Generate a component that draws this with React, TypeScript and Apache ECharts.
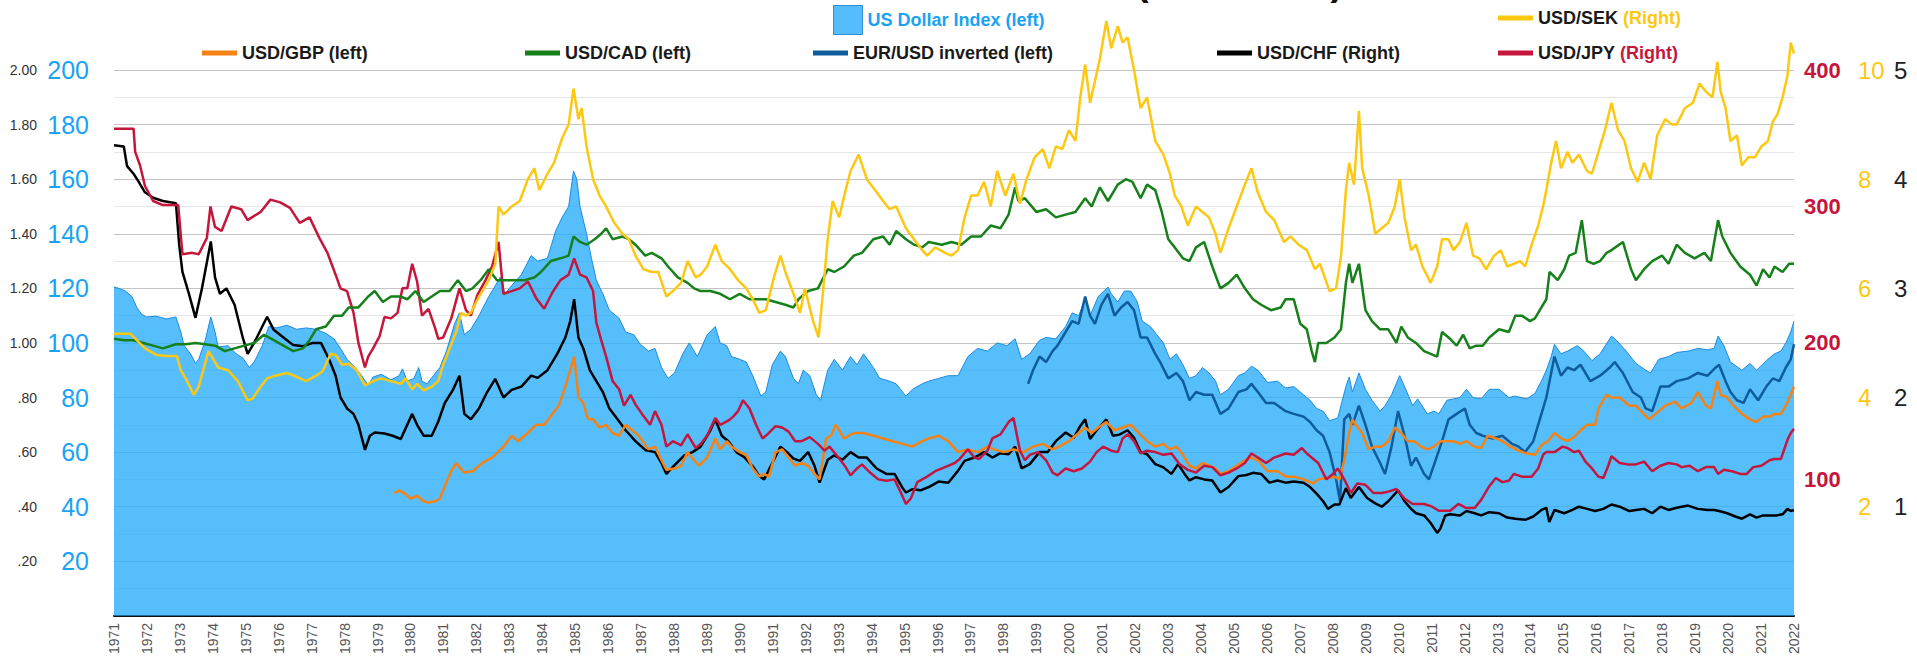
import React, { useEffect, useRef } from "react";
import * as echarts from "echarts";

// ---------- DATA (decimal year, value) ----------
const dxy: number[][] = [[1971.0,120.5],[1971.15,120],[1971.35,119],[1971.55,117],[1971.7,113],[1971.85,110.5],[1972.0,109.5],[1972.3,109.8],[1972.6,108.8],[1972.9,109.5],[1973.05,104],[1973.15,99],[1973.35,96],[1973.5,92.5],[1973.6,94],[1973.8,101],[1973.97,109.5],[1974.1,104],[1974.2,98.5],[1974.5,99],[1974.75,96],[1974.95,94.5],[1975.15,91],[1975.3,93],[1975.55,99],[1975.75,106],[1976.0,105.5],[1976.3,106.5],[1976.6,105],[1976.9,105.5],[1977.2,105],[1977.5,103.5],[1977.75,101.5],[1977.95,98],[1978.15,94],[1978.4,91],[1978.6,88],[1978.8,84.5],[1978.95,87.5],[1979.2,88.5],[1979.5,86.5],[1979.75,88],[1979.85,90.5],[1980.0,86],[1980.2,87],[1980.35,91],[1980.45,86],[1980.6,85],[1980.8,88],[1981.0,91],[1981.2,97],[1981.45,107],[1981.6,111],[1981.75,103],[1981.95,105],[1982.2,110],[1982.5,117],[1982.85,124],[1983.0,118],[1983.2,121],[1983.5,125],[1983.8,132],[1984.0,130],[1984.3,131],[1984.55,141],[1984.75,146],[1984.95,150],[1985.1,163],[1985.2,160],[1985.3,150],[1985.5,140],[1985.65,131],[1985.8,123],[1986.0,118],[1986.2,112],[1986.5,109],[1986.7,104],[1986.95,103],[1987.15,99.5],[1987.4,97],[1987.6,98],[1987.8,91],[1988.0,87],[1988.2,89],[1988.45,96],[1988.65,100],[1988.9,95],[1989.2,103],[1989.45,106],[1989.6,100],[1989.8,99],[1989.95,95],[1990.2,94],[1990.4,93],[1990.6,88],[1990.85,80.5],[1991.0,82],[1991.2,92],[1991.45,97],[1991.6,95],[1991.85,87],[1992.0,85],[1992.15,90],[1992.35,88],[1992.55,81],[1992.68,79],[1992.9,90],[1993.1,94],[1993.35,90],[1993.6,95],[1993.8,92],[1994.0,96],[1994.3,91],[1994.5,87],[1994.8,86],[1995.0,85],[1995.3,80.5],[1995.5,83],[1995.8,85],[1996.0,86],[1996.3,87],[1996.6,88],[1996.9,88],[1997.2,95],[1997.5,98],[1997.8,97],[1998.1,100],[1998.4,99],[1998.65,101.5],[1998.85,94],[1999.1,96],[1999.4,101],[1999.6,102],[1999.9,101.5],[2000.2,106],[2000.4,111],[2000.6,110],[2000.8,116],[2000.95,110],[2001.2,117],[2001.5,120.5],[2001.6,118],[2001.8,115],[2002.0,119],[2002.2,119],[2002.4,115],[2002.55,108],[2002.8,106],[2003.0,103],[2003.2,100],[2003.4,94],[2003.6,96],[2003.8,92],[2004.0,87],[2004.2,88],[2004.4,91],[2004.6,89],[2004.8,86],[2004.95,81],[2005.2,83],[2005.5,88],[2005.7,89],[2005.9,91.5],[2006.1,90],[2006.4,85.5],[2006.7,86],[2006.95,83.5],[2007.2,84],[2007.5,81],[2007.7,79],[2007.9,76],[2008.1,75],[2008.3,71.5],[2008.55,72.5],[2008.8,84],[2008.9,87.5],[2009.0,82],[2009.2,89],[2009.4,83],[2009.6,79],[2009.85,75],[2010.0,77],[2010.2,81],[2010.45,88],[2010.6,84],[2010.85,77],[2011.0,79.5],[2011.3,74],[2011.5,75],[2011.65,74],[2011.9,79],[2012.1,79.5],[2012.3,80],[2012.5,83],[2012.7,80],[2012.95,79.5],[2013.2,83],[2013.5,83],[2013.8,80],[2014.0,80.5],[2014.35,79.5],[2014.6,81.5],[2014.8,86],[2014.95,90],[2015.1,95],[2015.2,99.5],[2015.4,96],[2015.6,97],[2015.9,99],[2016.1,97],[2016.35,93.5],[2016.6,96],[2016.95,102.5],[2017.1,101],[2017.4,97],[2017.7,92.5],[2018.0,90],[2018.15,89],[2018.4,94],[2018.7,95],[2018.95,96.5],[2019.3,97],[2019.6,98],[2019.9,97.5],[2020.1,98],[2020.22,102.5],[2020.4,99],[2020.6,93],[2020.95,90],[2021.2,92.5],[2021.4,90],[2021.7,93.5],[2021.95,96],[2022.15,97],[2022.3,100],[2022.45,104],[2022.55,108]];

const usdGbp: number[][] = [[1979.6,0.45],[1979.75,0.46],[1979.9,0.45],[1980.1,0.43],[1980.3,0.44],[1980.5,0.42],[1980.65,0.415],[1980.85,0.42],[1981.0,0.43],[1981.2,0.49],[1981.35,0.53],[1981.5,0.56],[1981.6,0.545],[1981.75,0.525],[1982.0,0.53],[1982.3,0.56],[1982.6,0.58],[1982.95,0.62],[1983.2,0.66],[1983.4,0.64],[1983.7,0.67],[1983.95,0.7],[1984.2,0.7],[1984.45,0.74],[1984.65,0.77],[1984.85,0.84],[1985.0,0.9],[1985.12,0.95],[1985.25,0.8],[1985.4,0.78],[1985.55,0.72],[1985.7,0.72],[1985.9,0.69],[1986.1,0.7],[1986.3,0.67],[1986.5,0.66],[1986.7,0.7],[1986.9,0.68],[1987.1,0.66],[1987.4,0.61],[1987.6,0.62],[1987.8,0.57],[1987.95,0.535],[1988.2,0.54],[1988.4,0.55],[1988.6,0.6],[1988.8,0.57],[1988.95,0.55],[1989.2,0.58],[1989.45,0.65],[1989.6,0.61],[1989.8,0.64],[1989.95,0.62],[1990.2,0.6],[1990.4,0.59],[1990.6,0.54],[1990.8,0.51],[1990.95,0.52],[1991.1,0.51],[1991.3,0.6],[1991.5,0.61],[1991.7,0.58],[1991.9,0.55],[1992.1,0.56],[1992.3,0.55],[1992.5,0.52],[1992.65,0.5],[1992.75,0.57],[1992.85,0.65],[1993.0,0.66],[1993.15,0.7],[1993.4,0.65],[1993.7,0.67],[1994.0,0.67],[1994.3,0.66],[1994.6,0.65],[1994.9,0.64],[1995.2,0.63],[1995.5,0.62],[1995.8,0.64],[1996.0,0.65],[1996.3,0.66],[1996.6,0.64],[1996.9,0.6],[1997.2,0.61],[1997.5,0.6],[1997.8,0.62],[1998.0,0.61],[1998.3,0.6],[1998.6,0.61],[1998.9,0.6],[1999.2,0.62],[1999.5,0.63],[1999.8,0.61],[2000.0,0.62],[2000.3,0.64],[2000.6,0.67],[2000.8,0.69],[2001.0,0.67],[2001.2,0.69],[2001.45,0.71],[2001.7,0.68],[2001.95,0.69],[2002.2,0.7],[2002.45,0.67],[2002.7,0.64],[2002.95,0.62],[2003.2,0.63],[2003.4,0.61],[2003.6,0.62],[2003.8,0.59],[2004.0,0.55],[2004.2,0.54],[2004.4,0.56],[2004.6,0.55],[2004.8,0.54],[2004.95,0.52],[2005.2,0.53],[2005.45,0.55],[2005.7,0.57],[2005.9,0.58],[2006.1,0.57],[2006.4,0.53],[2006.7,0.53],[2006.95,0.51],[2007.2,0.51],[2007.5,0.5],[2007.8,0.485],[2007.95,0.5],[2008.2,0.505],[2008.45,0.51],[2008.6,0.5],[2008.75,0.57],[2008.9,0.67],[2009.0,0.72],[2009.1,0.7],[2009.3,0.67],[2009.5,0.61],[2009.7,0.62],[2009.9,0.62],[2010.1,0.64],[2010.3,0.69],[2010.5,0.67],[2010.7,0.64],[2010.9,0.64],[2011.1,0.62],[2011.3,0.61],[2011.5,0.62],[2011.7,0.64],[2011.9,0.64],[2012.1,0.64],[2012.3,0.63],[2012.5,0.64],[2012.75,0.62],[2012.95,0.615],[2013.15,0.66],[2013.4,0.65],[2013.6,0.64],[2013.85,0.62],[2014.1,0.605],[2014.35,0.595],[2014.6,0.59],[2014.8,0.625],[2015.0,0.64],[2015.2,0.67],[2015.4,0.65],[2015.6,0.64],[2015.8,0.655],[2016.0,0.68],[2016.2,0.7],[2016.45,0.7],[2016.55,0.76],[2016.8,0.81],[2016.95,0.8],[2017.2,0.8],[2017.5,0.77],[2017.7,0.77],[2017.9,0.745],[2018.1,0.72],[2018.3,0.74],[2018.6,0.77],[2018.9,0.785],[2019.1,0.76],[2019.4,0.78],[2019.6,0.82],[2019.85,0.77],[2020.0,0.76],[2020.2,0.86],[2020.3,0.81],[2020.5,0.8],[2020.7,0.77],[2020.95,0.74],[2021.2,0.72],[2021.4,0.71],[2021.6,0.73],[2021.8,0.73],[2021.95,0.74],[2022.15,0.74],[2022.3,0.77],[2022.45,0.81],[2022.55,0.84]];

const usdCad: number[][] = [[1971.0,1.015],[1971.3,1.01],[1971.6,1.01],[1971.9,1.0],[1972.2,0.99],[1972.5,0.98],[1972.9,0.995],[1973.2,0.995],[1973.5,1.0],[1973.8,0.995],[1974.1,0.99],[1974.4,0.97],[1974.7,0.98],[1975.0,0.99],[1975.3,1.0],[1975.6,1.03],[1975.9,1.01],[1976.2,0.99],[1976.5,0.97],[1976.8,0.98],[1977.0,1.01],[1977.2,1.05],[1977.5,1.06],[1977.75,1.1],[1978.0,1.1],[1978.2,1.13],[1978.5,1.13],[1978.8,1.17],[1979.0,1.19],[1979.25,1.15],[1979.5,1.17],[1979.8,1.17],[1980.0,1.16],[1980.25,1.19],[1980.5,1.15],[1980.75,1.17],[1981.0,1.19],[1981.3,1.19],[1981.55,1.23],[1981.8,1.19],[1982.0,1.2],[1982.25,1.23],[1982.5,1.27],[1982.75,1.23],[1983.0,1.23],[1983.3,1.23],[1983.6,1.23],[1983.9,1.24],[1984.1,1.26],[1984.4,1.3],[1984.7,1.31],[1984.95,1.32],[1985.1,1.39],[1985.3,1.37],[1985.5,1.36],[1985.75,1.38],[1985.95,1.4],[1986.1,1.42],[1986.3,1.38],[1986.6,1.39],[1986.8,1.38],[1987.0,1.36],[1987.3,1.32],[1987.5,1.33],[1987.8,1.31],[1988.0,1.28],[1988.3,1.24],[1988.6,1.22],[1988.8,1.2],[1989.0,1.19],[1989.3,1.19],[1989.6,1.18],[1989.9,1.16],[1990.2,1.18],[1990.5,1.16],[1990.8,1.16],[1991.0,1.16],[1991.3,1.15],[1991.6,1.14],[1991.85,1.13],[1992.0,1.16],[1992.3,1.19],[1992.6,1.2],[1992.9,1.27],[1993.1,1.26],[1993.4,1.28],[1993.7,1.32],[1993.95,1.33],[1994.3,1.38],[1994.6,1.39],[1994.8,1.36],[1995.0,1.41],[1995.3,1.38],[1995.55,1.36],[1995.8,1.35],[1996.0,1.37],[1996.4,1.36],[1996.7,1.37],[1997.0,1.36],[1997.3,1.39],[1997.6,1.39],[1997.9,1.43],[1998.2,1.42],[1998.45,1.47],[1998.65,1.57],[1998.75,1.52],[1998.95,1.53],[1999.3,1.48],[1999.6,1.49],[1999.9,1.46],[2000.2,1.47],[2000.5,1.48],[2000.8,1.53],[2001.0,1.5],[2001.25,1.57],[2001.5,1.52],[2001.8,1.58],[2002.05,1.6],[2002.25,1.59],[2002.5,1.53],[2002.7,1.58],[2002.95,1.56],[2003.15,1.48],[2003.35,1.38],[2003.55,1.35],[2003.8,1.31],[2004.0,1.3],[2004.2,1.35],[2004.45,1.37],[2004.7,1.28],[2004.95,1.2],[2005.2,1.22],[2005.45,1.25],[2005.7,1.2],[2005.95,1.16],[2006.2,1.14],[2006.5,1.12],[2006.8,1.13],[2006.95,1.16],[2007.2,1.16],[2007.4,1.07],[2007.6,1.05],[2007.75,0.97],[2007.85,0.93],[2007.95,1.0],[2008.2,1.0],[2008.45,1.02],[2008.65,1.05],[2008.8,1.22],[2008.9,1.29],[2009.0,1.22],[2009.2,1.29],[2009.4,1.12],[2009.6,1.08],[2009.85,1.05],[2010.1,1.05],[2010.35,1.0],[2010.5,1.06],[2010.7,1.02],[2010.95,1.0],[2011.2,0.97],[2011.4,0.96],[2011.6,0.95],[2011.75,1.04],[2011.95,1.02],[2012.2,0.99],[2012.4,1.03],[2012.6,0.98],[2012.8,0.99],[2013.0,0.99],[2013.2,1.02],[2013.5,1.05],[2013.8,1.04],[2014.0,1.1],[2014.2,1.1],[2014.45,1.08],[2014.6,1.09],[2014.8,1.13],[2014.95,1.16],[2015.05,1.26],[2015.3,1.23],[2015.5,1.27],[2015.65,1.32],[2015.85,1.33],[2016.04,1.45],[2016.2,1.3],[2016.4,1.29],[2016.6,1.3],[2016.8,1.33],[2016.95,1.34],[2017.3,1.37],[2017.55,1.27],[2017.7,1.23],[2017.95,1.27],[2018.2,1.3],[2018.5,1.32],[2018.7,1.29],[2018.95,1.36],[2019.2,1.33],[2019.5,1.31],[2019.8,1.33],[2020.0,1.3],[2020.22,1.45],[2020.35,1.39],[2020.6,1.33],[2020.9,1.28],[2021.2,1.25],[2021.4,1.21],[2021.6,1.27],[2021.8,1.24],[2021.95,1.28],[2022.2,1.26],[2022.4,1.29],[2022.55,1.29]];

const eurUsdInv: number[][] = [[1999.05,0.85],[1999.2,0.9],[1999.4,0.95],[1999.6,0.93],[1999.8,0.97],[1999.95,0.99],[2000.2,1.04],[2000.4,1.08],[2000.6,1.07],[2000.8,1.17],[2000.95,1.1],[2001.1,1.07],[2001.3,1.14],[2001.5,1.18],[2001.7,1.1],[2001.9,1.13],[2002.1,1.15],[2002.3,1.12],[2002.5,1.02],[2002.7,1.02],[2002.95,0.96],[2003.1,0.93],[2003.35,0.87],[2003.6,0.89],[2003.8,0.86],[2004.0,0.79],[2004.2,0.82],[2004.45,0.81],[2004.7,0.81],[2004.95,0.74],[2005.2,0.76],[2005.5,0.82],[2005.75,0.83],[2005.9,0.85],[2006.1,0.82],[2006.35,0.78],[2006.6,0.78],[2006.95,0.75],[2007.2,0.74],[2007.5,0.73],[2007.7,0.71],[2007.9,0.68],[2008.1,0.66],[2008.3,0.6],[2008.5,0.5],[2008.62,0.42],[2008.75,0.72],[2008.9,0.74],[2009.0,0.7],[2009.2,0.77],[2009.4,0.7],[2009.6,0.62],[2009.85,0.56],[2010.0,0.52],[2010.2,0.62],[2010.4,0.75],[2010.6,0.66],[2010.8,0.55],[2010.95,0.58],[2011.2,0.52],[2011.35,0.5],[2011.55,0.57],[2011.75,0.64],[2011.95,0.72],[2012.2,0.74],[2012.45,0.76],[2012.6,0.7],[2012.8,0.67],[2013.0,0.66],[2013.3,0.65],[2013.6,0.66],[2013.9,0.63],[2014.1,0.62],[2014.3,0.6],[2014.55,0.64],[2014.75,0.72],[2014.95,0.8],[2015.2,0.95],[2015.4,0.88],[2015.6,0.91],[2015.8,0.9],[2016.0,0.92],[2016.3,0.86],[2016.6,0.88],[2016.9,0.91],[2017.05,0.93],[2017.3,0.89],[2017.6,0.82],[2017.85,0.8],[2018.0,0.76],[2018.2,0.75],[2018.45,0.84],[2018.7,0.84],[2018.95,0.86],[2019.3,0.87],[2019.6,0.89],[2019.9,0.88],[2020.15,0.91],[2020.25,0.92],[2020.45,0.86],[2020.6,0.82],[2020.8,0.79],[2021.0,0.78],[2021.2,0.83],[2021.45,0.79],[2021.7,0.84],[2021.9,0.87],[2022.1,0.86],[2022.3,0.91],[2022.45,0.94],[2022.55,0.995]];

const usdChf: number[][] = [[1971.0,4.31],[1971.3,4.3],[1971.4,4.12],[1971.6,4.05],[1971.75,3.98],[1971.95,3.88],[1972.2,3.83],[1972.5,3.8],[1972.9,3.78],[1973.0,3.4],[1973.1,3.15],[1973.3,2.95],[1973.5,2.73],[1973.7,3.0],[1973.97,3.43],[1974.1,3.1],[1974.25,2.95],[1974.45,3.0],[1974.7,2.85],[1974.95,2.55],[1975.1,2.4],[1975.3,2.5],[1975.55,2.65],[1975.7,2.74],[1975.9,2.62],[1976.2,2.55],[1976.5,2.48],[1976.8,2.47],[1977.1,2.5],[1977.35,2.5],[1977.6,2.35],[1977.8,2.2],[1977.95,2.0],[1978.15,1.9],[1978.35,1.85],[1978.5,1.75],[1978.7,1.52],[1978.85,1.65],[1979.0,1.68],[1979.3,1.67],[1979.55,1.65],[1979.8,1.62],[1980.15,1.85],[1980.3,1.75],[1980.5,1.65],[1980.75,1.65],[1980.95,1.78],[1981.15,1.95],[1981.4,2.07],[1981.6,2.2],[1981.75,1.85],[1981.95,1.8],[1982.2,1.9],[1982.45,2.05],[1982.7,2.17],[1982.95,2.0],[1983.2,2.07],[1983.5,2.1],[1983.8,2.2],[1984.0,2.18],[1984.3,2.25],[1984.6,2.4],[1984.85,2.55],[1985.0,2.7],[1985.12,2.9],[1985.25,2.55],[1985.4,2.45],[1985.6,2.25],[1985.8,2.15],[1986.0,2.05],[1986.2,1.9],[1986.45,1.8],[1986.7,1.7],[1987.0,1.6],[1987.3,1.52],[1987.6,1.5],[1987.8,1.4],[1987.95,1.3],[1988.2,1.38],[1988.5,1.47],[1988.75,1.5],[1989.0,1.55],[1989.3,1.7],[1989.45,1.8],[1989.65,1.65],[1989.85,1.6],[1990.1,1.5],[1990.35,1.45],[1990.6,1.37],[1990.8,1.28],[1990.95,1.25],[1991.2,1.4],[1991.45,1.55],[1991.65,1.5],[1991.85,1.44],[1992.05,1.42],[1992.3,1.5],[1992.5,1.37],[1992.65,1.22],[1992.9,1.43],[1993.1,1.47],[1993.35,1.43],[1993.6,1.5],[1993.85,1.45],[1994.1,1.45],[1994.4,1.35],[1994.7,1.3],[1994.95,1.3],[1995.2,1.17],[1995.3,1.13],[1995.5,1.16],[1995.75,1.15],[1996.0,1.18],[1996.3,1.23],[1996.6,1.22],[1996.9,1.33],[1997.1,1.42],[1997.4,1.45],[1997.7,1.5],[1997.95,1.45],[1998.2,1.49],[1998.45,1.48],[1998.65,1.55],[1998.85,1.35],[1999.1,1.39],[1999.4,1.5],[1999.65,1.5],[1999.9,1.6],[2000.2,1.68],[2000.45,1.63],[2000.65,1.74],[2000.8,1.8],[2000.95,1.62],[2001.15,1.7],[2001.45,1.8],[2001.65,1.65],[2001.85,1.66],[2002.1,1.7],[2002.3,1.63],[2002.5,1.5],[2002.7,1.48],[2002.95,1.39],[2003.2,1.36],[2003.45,1.3],[2003.65,1.39],[2003.85,1.3],[2004.0,1.24],[2004.2,1.27],[2004.45,1.25],[2004.7,1.24],[2004.95,1.13],[2005.2,1.18],[2005.5,1.28],[2005.75,1.29],[2005.95,1.31],[2006.2,1.3],[2006.45,1.22],[2006.7,1.24],[2006.95,1.22],[2007.2,1.23],[2007.5,1.22],[2007.7,1.18],[2007.9,1.12],[2008.1,1.05],[2008.25,0.98],[2008.45,1.02],[2008.6,1.02],[2008.8,1.17],[2008.95,1.08],[2009.2,1.18],[2009.45,1.08],[2009.7,1.03],[2009.9,1.0],[2010.1,1.05],[2010.4,1.15],[2010.6,1.05],[2010.8,0.98],[2010.95,0.94],[2011.2,0.92],[2011.4,0.85],[2011.6,0.76],[2011.7,0.8],[2011.85,0.92],[2012.0,0.93],[2012.3,0.92],[2012.5,0.96],[2012.75,0.94],[2012.95,0.92],[2013.2,0.95],[2013.5,0.94],[2013.75,0.9],[2014.0,0.89],[2014.3,0.88],[2014.55,0.91],[2014.8,0.97],[2014.95,0.99],[2015.04,0.86],[2015.2,0.97],[2015.5,0.94],[2015.75,0.97],[2015.95,1.0],[2016.2,0.98],[2016.45,0.96],[2016.7,0.98],[2016.95,1.02],[2017.2,1.0],[2017.5,0.96],[2017.7,0.97],[2017.95,0.98],[2018.2,0.94],[2018.45,1.0],[2018.7,0.97],[2018.95,0.99],[2019.3,1.01],[2019.6,0.98],[2019.9,0.97],[2020.1,0.97],[2020.25,0.96],[2020.5,0.94],[2020.75,0.91],[2020.95,0.89],[2021.2,0.93],[2021.4,0.9],[2021.6,0.92],[2021.85,0.92],[2022.0,0.92],[2022.2,0.93],[2022.35,0.98],[2022.45,0.96],[2022.55,0.97]];

const usdJpy: number[][] = [[1971.0,357],[1971.6,357],[1971.65,340],[1971.8,330],[1971.95,315],[1972.2,304],[1972.5,301],[1972.8,301],[1972.97,301],[1973.1,265],[1973.4,266],[1973.6,265],[1973.85,277],[1973.96,300],[1974.1,285],[1974.3,282],[1974.6,300],[1974.9,298],[1975.1,290],[1975.5,296],[1975.8,305],[1976.1,303],[1976.4,299],[1976.7,288],[1977.0,292],[1977.3,277],[1977.55,266],[1977.8,250],[1977.95,240],[1978.15,238],[1978.35,222],[1978.5,200],[1978.7,182],[1978.8,190],[1978.95,196],[1979.15,205],[1979.3,219],[1979.5,218],[1979.7,222],[1979.85,240],[1980.0,240],[1980.15,258],[1980.3,245],[1980.45,220],[1980.65,225],[1980.85,211],[1980.95,203],[1981.1,204],[1981.35,218],[1981.6,240],[1981.8,224],[1981.95,220],[1982.15,235],[1982.4,246],[1982.6,256],[1982.8,274],[1982.95,236],[1983.2,238],[1983.45,240],[1983.7,245],[1983.95,233],[1984.2,225],[1984.45,237],[1984.7,246],[1984.95,250],[1985.12,262],[1985.3,250],[1985.5,248],[1985.7,238],[1985.8,215],[1985.95,202],[1986.1,190],[1986.3,172],[1986.5,166],[1986.65,154],[1986.85,162],[1987.0,155],[1987.2,148],[1987.45,140],[1987.6,150],[1987.8,140],[1987.95,124],[1988.15,128],[1988.4,125],[1988.6,133],[1988.85,123],[1989.0,126],[1989.2,132],[1989.45,145],[1989.6,140],[1989.85,143],[1990.0,146],[1990.15,150],[1990.3,158],[1990.5,152],[1990.7,140],[1990.9,130],[1991.05,133],[1991.3,139],[1991.5,138],[1991.7,135],[1991.9,128],[1992.1,128],[1992.35,131],[1992.6,126],[1992.8,121],[1992.95,124],[1993.2,117],[1993.45,109],[1993.6,103],[1993.8,108],[1993.95,111],[1994.2,105],[1994.45,100],[1994.7,99],[1994.95,100],[1995.15,90],[1995.3,82],[1995.45,86],[1995.65,98],[1995.95,102],[1996.2,106],[1996.5,109],[1996.8,112],[1996.95,115],[1997.2,122],[1997.4,116],[1997.55,115],[1997.8,121],[1997.95,130],[1998.2,133],[1998.45,142],[1998.6,145],[1998.8,121],[1998.95,114],[1999.1,118],[1999.35,120],[1999.6,114],[1999.8,105],[1999.95,103],[2000.2,108],[2000.45,106],[2000.7,108],[2000.95,113],[2001.15,120],[2001.35,124],[2001.6,121],[2001.8,120],[2001.95,130],[2002.1,133],[2002.3,128],[2002.5,119],[2002.7,121],[2002.95,120],[2003.2,118],[2003.45,119],[2003.7,111],[2003.95,107],[2004.2,105],[2004.45,110],[2004.7,109],[2004.95,103],[2005.2,105],[2005.45,108],[2005.7,112],[2005.9,119],[2006.1,116],[2006.35,112],[2006.6,116],[2006.95,119],[2007.2,118],[2007.45,123],[2007.6,119],[2007.8,115],[2007.95,112],[2008.2,100],[2008.4,104],[2008.55,108],[2008.75,100],[2008.95,90],[2009.15,97],[2009.4,96],[2009.65,90],[2009.9,90],[2010.1,91],[2010.35,93],[2010.6,86],[2010.85,82],[2011.0,82],[2011.2,82],[2011.45,80],[2011.65,77],[2011.85,77],[2012.0,77],[2012.25,82],[2012.5,79],[2012.75,79],[2012.95,85],[2013.2,95],[2013.4,101],[2013.6,98],[2013.8,99],[2013.95,104],[2014.2,102],[2014.5,102],[2014.7,108],[2014.85,118],[2014.95,120],[2015.2,120],[2015.45,124],[2015.6,123],[2015.8,120],[2015.95,121],[2016.15,113],[2016.35,108],[2016.55,102],[2016.7,101],[2016.85,110],[2016.95,117],[2017.2,112],[2017.45,111],[2017.7,111],[2017.95,113],[2018.2,106],[2018.45,110],[2018.7,112],[2018.95,111],[2019.1,109],[2019.35,110],[2019.6,106],[2019.85,109],[2020.1,109],[2020.22,104],[2020.4,107],[2020.65,106],[2020.9,104],[2021.1,104],[2021.3,109],[2021.55,110],[2021.8,114],[2021.95,115],[2022.15,115],[2022.25,122],[2022.35,129],[2022.45,134],[2022.55,137]];

const usdSek: number[][] = [[1971.0,5.17],[1971.5,5.17],[1971.7,5.05],[1971.95,4.9],[1972.3,4.78],[1972.6,4.76],[1972.93,4.76],[1973.05,4.5],[1973.2,4.35],[1973.45,4.05],[1973.6,4.2],[1973.9,4.85],[1974.0,4.75],[1974.2,4.55],[1974.5,4.5],[1974.8,4.3],[1975.1,3.95],[1975.25,3.98],[1975.5,4.2],[1975.7,4.35],[1975.95,4.4],[1976.3,4.45],[1976.6,4.38],[1976.9,4.3],[1977.2,4.4],[1977.4,4.48],[1977.65,4.8],[1977.8,4.78],[1978.0,4.6],[1978.2,4.62],[1978.45,4.5],[1978.7,4.22],[1978.95,4.3],[1979.2,4.35],[1979.5,4.3],[1979.8,4.25],[1979.95,4.35],[1980.15,4.15],[1980.3,4.25],[1980.5,4.13],[1980.75,4.2],[1980.95,4.3],[1981.1,4.6],[1981.3,4.9],[1981.5,5.2],[1981.65,5.55],[1981.8,5.5],[1981.95,5.55],[1982.2,5.85],[1982.5,6.15],[1982.7,6.45],[1982.8,7.5],[1982.95,7.35],[1983.2,7.5],[1983.45,7.6],[1983.7,8.0],[1983.9,8.2],[1984.05,7.8],[1984.3,8.1],[1984.5,8.3],[1984.75,8.75],[1984.95,9.0],[1985.1,9.66],[1985.25,9.1],[1985.35,9.3],[1985.5,8.6],[1985.7,8.0],[1985.9,7.7],[1986.1,7.5],[1986.35,7.2],[1986.6,7.0],[1986.8,6.9],[1987.0,6.6],[1987.25,6.35],[1987.5,6.3],[1987.7,6.3],[1987.95,5.85],[1988.15,5.95],[1988.4,6.1],[1988.6,6.5],[1988.85,6.2],[1989.0,6.25],[1989.2,6.4],[1989.45,6.8],[1989.65,6.5],[1989.9,6.35],[1990.15,6.15],[1990.4,6.0],[1990.6,5.8],[1990.8,5.55],[1991.0,5.6],[1991.25,6.2],[1991.45,6.6],[1991.6,6.3],[1991.85,5.9],[1992.05,5.55],[1992.2,6.0],[1992.45,5.4],[1992.62,5.1],[1992.75,5.9],[1992.9,6.9],[1993.05,7.6],[1993.25,7.3],[1993.45,7.8],[1993.6,8.15],[1993.85,8.45],[1994.1,8.0],[1994.35,7.8],[1994.6,7.6],[1994.8,7.45],[1995.0,7.5],[1995.3,7.1],[1995.55,6.9],[1995.8,6.7],[1995.95,6.6],[1996.2,6.75],[1996.5,6.65],[1996.7,6.6],[1996.9,6.7],[1997.1,7.3],[1997.3,7.7],[1997.5,7.7],[1997.7,7.95],[1997.9,7.5],[1998.1,8.15],[1998.35,7.7],[1998.6,8.1],[1998.8,7.55],[1999.0,8.0],[1999.25,8.4],[1999.5,8.55],[1999.7,8.2],[1999.9,8.6],[2000.1,8.55],[2000.3,8.9],[2000.5,8.7],[2000.65,9.5],[2000.8,10.1],[2000.95,9.4],[2001.1,9.8],[2001.25,10.2],[2001.45,10.9],[2001.6,10.4],[2001.8,10.8],[2001.95,10.5],[2002.1,10.6],[2002.3,10.0],[2002.5,9.3],[2002.7,9.5],[2002.95,8.7],[2003.2,8.45],[2003.4,8.1],[2003.55,7.7],[2003.75,7.5],[2003.95,7.15],[2004.2,7.5],[2004.4,7.4],[2004.6,7.3],[2004.8,7.0],[2004.95,6.65],[2005.2,7.1],[2005.45,7.5],[2005.7,7.9],[2005.9,8.2],[2006.1,7.75],[2006.35,7.4],[2006.6,7.25],[2006.9,6.85],[2007.1,6.95],[2007.35,6.8],[2007.6,6.7],[2007.85,6.35],[2008.0,6.45],[2008.15,6.2],[2008.3,5.95],[2008.5,6.0],[2008.65,6.6],[2008.8,7.8],[2008.9,8.3],[2009.05,7.9],[2009.2,9.25],[2009.3,8.2],[2009.5,7.7],[2009.7,7.0],[2009.9,7.1],[2010.1,7.2],[2010.3,7.5],[2010.45,8.0],[2010.6,7.3],[2010.8,6.7],[2010.95,6.8],[2011.15,6.4],[2011.4,6.1],[2011.6,6.4],[2011.75,6.9],[2011.95,6.9],[2012.1,6.7],[2012.3,6.85],[2012.5,7.2],[2012.7,6.6],[2012.9,6.55],[2013.1,6.35],[2013.35,6.6],[2013.55,6.7],[2013.75,6.4],[2013.95,6.45],[2014.15,6.5],[2014.3,6.4],[2014.5,6.8],[2014.7,7.15],[2014.85,7.5],[2014.95,7.8],[2015.1,8.3],[2015.25,8.7],[2015.4,8.2],[2015.6,8.5],[2015.75,8.3],[2015.95,8.45],[2016.2,8.15],[2016.35,8.1],[2016.55,8.5],[2016.75,8.9],[2016.95,9.4],[2017.15,8.9],[2017.35,8.7],[2017.55,8.2],[2017.75,7.95],[2017.95,8.3],[2018.15,8.0],[2018.35,8.8],[2018.6,9.1],[2018.8,9.0],[2018.95,9.0],[2019.2,9.3],[2019.45,9.4],[2019.65,9.75],[2019.85,9.6],[2020.05,9.5],[2020.2,10.15],[2020.3,9.6],[2020.45,9.3],[2020.6,8.7],[2020.8,8.8],[2020.95,8.25],[2021.15,8.4],[2021.35,8.4],[2021.55,8.6],[2021.75,8.7],[2021.9,9.05],[2022.05,9.2],[2022.2,9.5],[2022.35,9.9],[2022.45,10.5],[2022.55,10.3]];

const firstYear = 1971;
const yearLabelCount = 51; // 1971 .. 2022 evenly spaced
const dataStart = 1971;
const dataEnd = 2022.55;

// ---------- STYLE ----------
const FONT = "'Liberation Sans', Arial, Helvetica, sans-serif";
const C_DXY_FILL = "rgba(45,174,251,0.8)";
const C_DXY_LINE = "#1b8be0";
const C_GBP = "#f58214";
const C_CAD = "#16801a";
const C_EUR = "#0e5c9c";
const C_CHF = "#000000";
const C_JPY = "#c5163c";
const C_SEK = "#fcc812";
const C_LEFT = "#1aa3f5";

function lineSeries(name: string, data: number[][], color: string, yAxisIndex: number, extra: any = {}) {
  return {
    name,
    type: "line",
    data,
    xAxisIndex: 0,
    yAxisIndex,
    symbol: "none",
    color,
    lineStyle: { color, width: 2.5 },
    itemStyle: { color },
    ...extra,
  };
}

function legendItem(name: string, left: number, top: number, extra: any = {}) {
  return {
    data: [name],
    left,
    top,
    icon: "rect",
    itemWidth: 35,
    itemHeight: 5,
    selectedMode: false,
    padding: 0,
    textStyle: {
      fontFamily: FONT,
      fontSize: 18,
      fontWeight: "bold",
      color: "#1a1a1a",
      rich: {
        r: { fontFamily: FONT, fontSize: 18, fontWeight: "bold", color: C_SEK },
        j: { fontFamily: FONT, fontSize: 18, fontWeight: "bold", color: C_JPY },
      },
    },
    ...extra,
  };
}

export default function App() {
  const ref = useRef<HTMLDivElement>(null);
  useEffect(() => {
    if (!ref.current) return;
    const chart = echarts.init(ref.current, undefined, { renderer: "svg" });
    const option: any = {
      animation: false,
      backgroundColor: "#ffffff",
      grid: { left: 114, right: 123, top: 70, bottom: 41, containLabel: false },
      xAxis: [
        { type: "value", min: dataStart, max: dataEnd, show: false },
        {
          type: "value",
          min: 0,
          max: yearLabelCount,
          interval: 1,
          position: "bottom",
          axisLine: { show: true, lineStyle: { color: "#111", width: 2 } },
          axisTick: { show: false },
          splitLine: { show: false },
          axisLabel: {
            rotate: 90,
            margin: 7,
            fontSize: 14,
            color: "#555",
            fontFamily: FONT,
            formatter: (v: number) => String(firstYear + Math.round(v)),
          },
        },
      ],
      yAxis: [
        {
          type: "value",
          position: "left",
          min: 0,
          max: 200,
          interval: 20,
          axisLine: { show: false },
          axisTick: { show: false },
          axisLabel: {
            margin: 25,
            fontSize: 25,
            color: C_LEFT,
            fontFamily: FONT,
            formatter: (v: number) => (v === 0 ? "" : String(v)),
          },
          splitLine: { show: true, lineStyle: { color: "#c4c4c4", width: 1 } },
          minorTick: { show: false, splitNumber: 2 },
          minorSplitLine: { show: true, lineStyle: { color: "#e6e6e6", width: 1 } },
        },
        {
          type: "value",
          position: "left",
          min: 0,
          max: 2,
          interval: 0.2,
          axisLine: { show: false },
          axisTick: { show: false },
          splitLine: { show: false },
          axisLabel: {
            margin: 77,
            fontSize: 14,
            color: "#333",
            fontFamily: FONT,
            formatter: (v: number) => (v === 0 ? "" : v < 1 ? v.toFixed(2).slice(1) : v.toFixed(2)),
          },
        },
        {
          type: "value",
          position: "right",
          min: 0,
          max: 400,
          interval: 100,
          axisLine: { show: false },
          axisTick: { show: false },
          splitLine: { show: false },
          axisLabel: {
            margin: 10,
            fontSize: 22,
            fontWeight: "bold",
            color: C_JPY,
            fontFamily: FONT,
            formatter: (v: number) => (v === 0 ? "" : String(v)),
          },
        },
        {
          type: "value",
          position: "right",
          min: 0,
          max: 10,
          interval: 2,
          axisLine: { show: false },
          axisTick: { show: false },
          splitLine: { show: false },
          axisLabel: {
            margin: 64,
            fontSize: 24,
            color: C_SEK,
            fontFamily: FONT,
            formatter: (v: number) => (v === 0 ? "" : String(v)),
          },
        },
        {
          type: "value",
          position: "right",
          min: 0,
          max: 5,
          interval: 1,
          axisLine: { show: false },
          axisTick: { show: false },
          splitLine: { show: false },
          axisLabel: {
            margin: 100,
            fontSize: 24,
            color: "#222",
            fontFamily: FONT,
            formatter: (v: number) => (v === 0 ? "" : String(v)),
          },
        },
      ],
      legend: [
        legendItem("US Dollar Index (left)", 833, 5, {
          itemWidth: 29,
          itemHeight: 29,
          itemStyle: { borderColor: "#2f8fd6", borderWidth: 1 },
          textStyle: { fontFamily: FONT, fontSize: 18, fontWeight: "bold", color: C_LEFT },
        }),
        legendItem("USD/SEK (Right)", 1498, 9, { formatter: () => "USD/SEK {r|(Right)}" }),
        legendItem("USD/GBP (left)", 202, 44),
        legendItem("USD/CAD (left)", 525, 44),
        legendItem("EUR/USD inverted (left)", 813, 44),
        legendItem("USD/CHF (Right)", 1217, 44),
        legendItem("USD/JPY (Right)", 1498, 44, { formatter: () => "USD/JPY {j|(Right)}" }),
      ],
      graphic: [
        {
          type: "text",
          x: 1136,
          y: -18,
          silent: true,
          style: {
            text: "(1971-2022)",
            font: `bold 38px ${FONT}`,
            fill: "#111",
            align: "left",
            verticalAlign: "middle",
          },
        },
      ],
      series: [
        {
          name: "US Dollar Index (left)",
          type: "line",
          data: dxy,
          xAxisIndex: 0,
          yAxisIndex: 0,
          symbol: "none",
          color: "#55bdfb",
          lineStyle: { color: C_DXY_LINE, width: 1 },
          itemStyle: { color: "#55bdfb" },
          areaStyle: { color: C_DXY_FILL, opacity: 1 },
        },
        lineSeries("EUR/USD inverted (left)", eurUsdInv, C_EUR, 1),
        lineSeries("USD/CHF (Right)", usdChf, C_CHF, 4),
        lineSeries("USD/GBP (left)", usdGbp, C_GBP, 1),
        lineSeries("USD/JPY (Right)", usdJpy, C_JPY, 2),
        lineSeries("USD/CAD (left)", usdCad, C_CAD, 1),
        lineSeries("USD/SEK (Right)", usdSek, C_SEK, 3, { clip: false }),
      ],
    };
    chart.setOption(option);
    return () => chart.dispose();
  }, []);
  return (
    <div
      ref={ref}
      style={{ position: "fixed", left: 0, top: 0, width: "1917px", height: "657px", background: "#fff" }}
    />
  );
}
